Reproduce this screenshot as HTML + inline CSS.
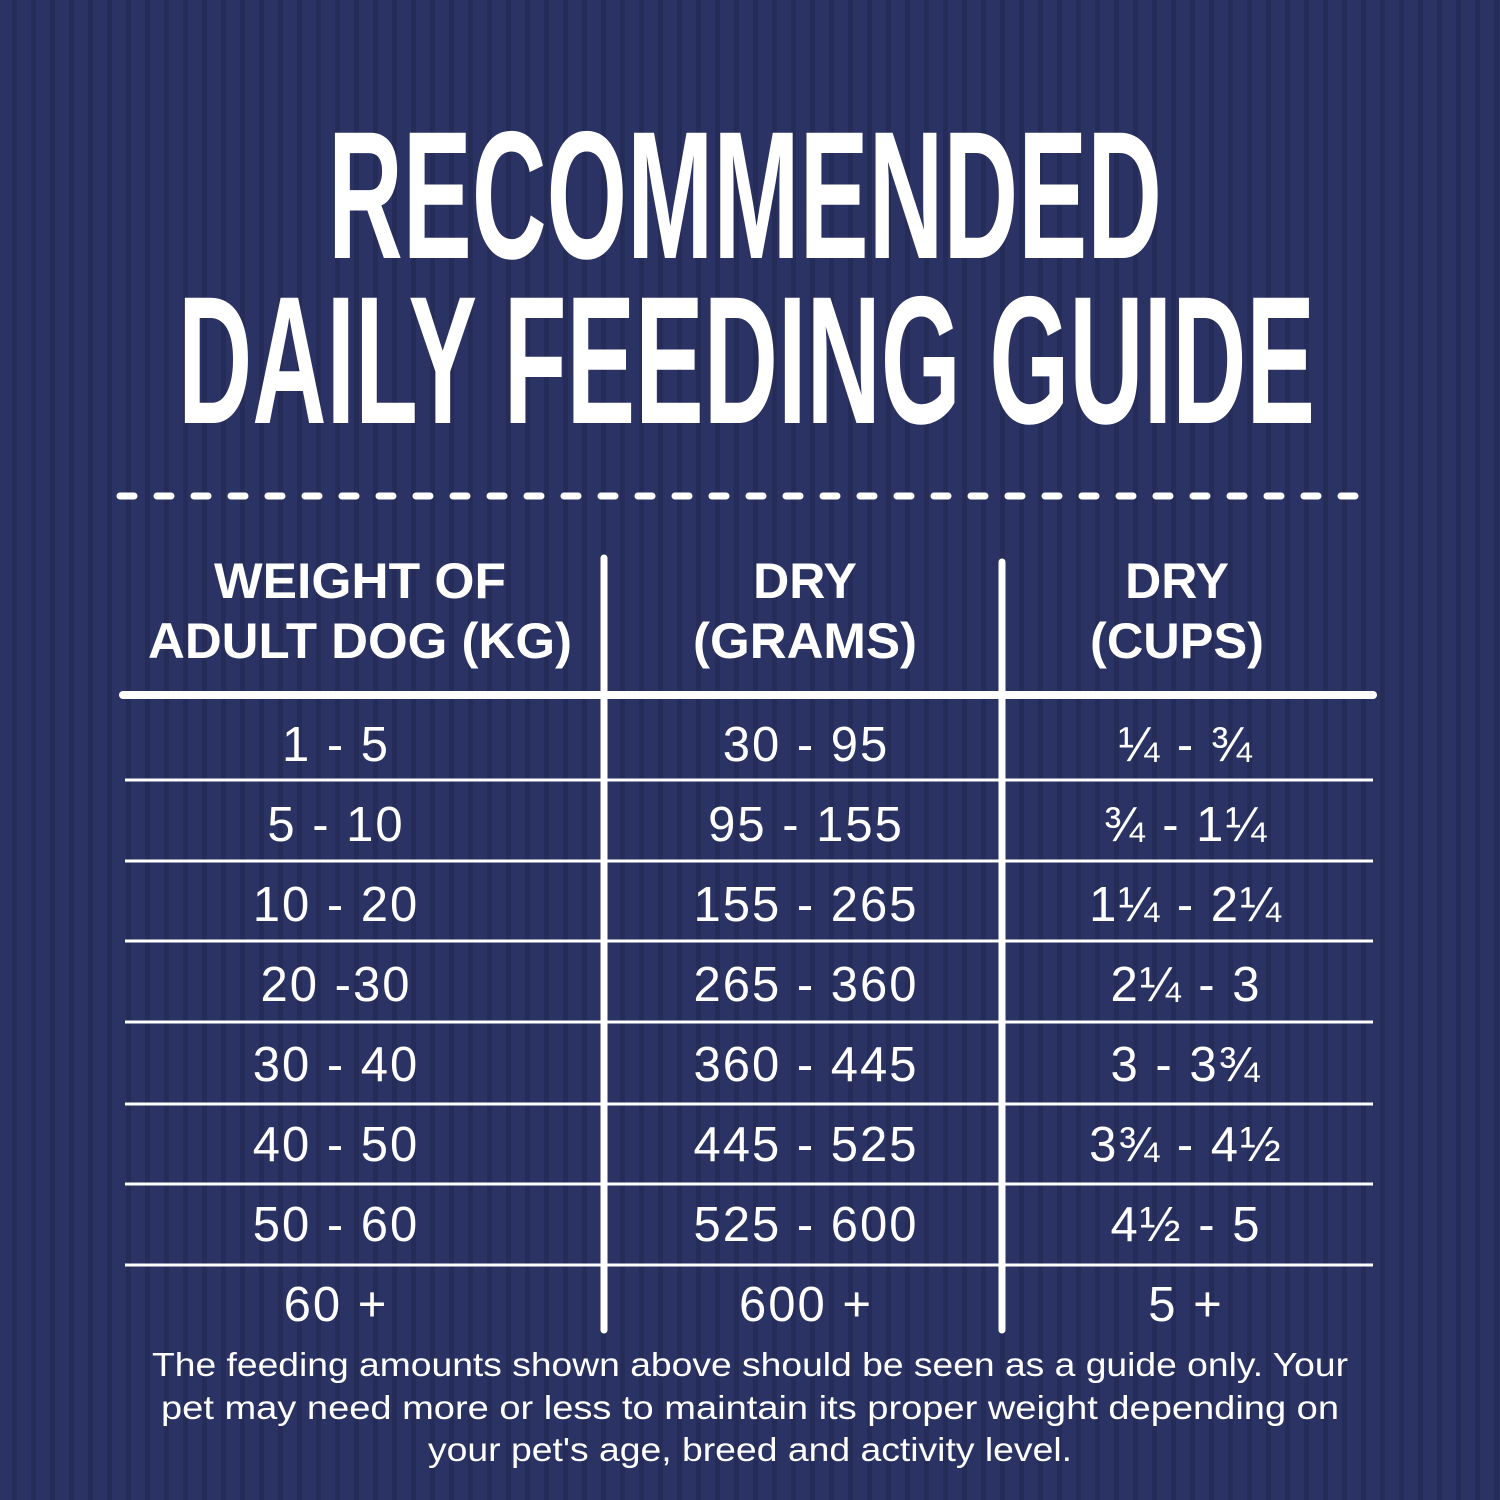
<!DOCTYPE html>
<html><head><meta charset="utf-8"><style>
html,body{margin:0;padding:0;width:1500px;height:1500px;overflow:hidden;background:#2a3262}
svg{display:block}
</style></head><body>
<svg width="1500" height="1500" viewBox="0 0 1500 1500" xmlns="http://www.w3.org/2000/svg">
<defs>
<pattern id="st" width="19" height="1500" patternUnits="userSpaceOnUse">
<rect width="19" height="1500" fill="#2b3364"/>
<rect x="12" width="5" height="1500" fill="#252c58"/>
</pattern>
</defs>
<rect width="1500" height="1500" fill="url(#st)"/>
<g fill="#fff" font-family="'Liberation Sans Narrow','Liberation Sans',sans-serif" font-weight="bold">
<text x="328" y="258" font-size="182" textLength="834" lengthAdjust="spacingAndGlyphs">RECOMMENDED</text>
<text x="178" y="423" font-size="182" textLength="1137" lengthAdjust="spacingAndGlyphs">DAILY FEEDING GUIDE</text>
</g>
<line x1="120" y1="496" x2="1375" y2="496" stroke="#fff" stroke-width="7" stroke-linecap="round" stroke-dasharray="14 23"/>
<g stroke="#fff" stroke-linecap="round">
<line x1="123" y1="695" x2="1373" y2="695" stroke-width="8"/>
<line x1="604" y1="558" x2="604" y2="1330" stroke-width="7"/>
<line x1="1002" y1="562" x2="1002" y2="1330" stroke-width="7"/>
</g>
<g stroke="#fff" stroke-width="3">
<line x1="125" y1="780" x2="1373" y2="780"/>
<line x1="125" y1="861" x2="1373" y2="861"/>
<line x1="125" y1="941" x2="1373" y2="941"/>
<line x1="125" y1="1022" x2="1373" y2="1022"/>
<line x1="125" y1="1104" x2="1373" y2="1104"/>
<line x1="125" y1="1184" x2="1373" y2="1184"/>
<line x1="125" y1="1265" x2="1373" y2="1265"/>
</g>
<g fill="#fff" font-family="'Liberation Sans','DejaVu Sans',sans-serif" text-anchor="middle">
<g font-weight="bold" font-size="50">
<text x="360" y="598" textLength="292" lengthAdjust="spacingAndGlyphs">WEIGHT OF</text>
<text x="360" y="658" textLength="424" lengthAdjust="spacingAndGlyphs">ADULT DOG (KG)</text>
<text x="805" y="598">DRY</text>
<text x="805" y="658" textLength="224" lengthAdjust="spacingAndGlyphs">(GRAMS)</text>
<text x="1177" y="598">DRY</text>
<text x="1177" y="658" textLength="174" lengthAdjust="spacingAndGlyphs">(CUPS)</text>
</g>
<g font-size="49" letter-spacing="2">
<text x="336" y="761">1 - 5</text><text x="806" y="761">30 - 95</text><text x="1186" y="761">¼ - ¾</text>
<text x="336" y="841">5 - 10</text><text x="806" y="841">95 - 155</text><text x="1186" y="841">¾ - 1¼</text>
<text x="336" y="921">10 - 20</text><text x="806" y="921">155 - 265</text><text x="1186" y="921">1¼ - 2¼</text>
<text x="336" y="1001">20 -30</text><text x="806" y="1001">265 - 360</text><text x="1186" y="1001">2¼ - 3</text>
<text x="336" y="1081">30 - 40</text><text x="806" y="1081">360 - 445</text><text x="1186" y="1081">3 - 3¾</text>
<text x="336" y="1161">40 - 50</text><text x="806" y="1161">445 - 525</text><text x="1186" y="1161">3¾ - 4½</text>
<text x="336" y="1241">50 - 60</text><text x="806" y="1241">525 - 600</text><text x="1186" y="1241">4½ - 5</text>
<text x="336" y="1321">60 +</text><text x="806" y="1321">600 +</text><text x="1186" y="1321">5 +</text>
</g>
<g font-size="33">
<text x="750" y="1376" textLength="1196" lengthAdjust="spacingAndGlyphs">The feeding amounts shown above should be seen as a guide only. Your</text>
<text x="750" y="1419" textLength="1178" lengthAdjust="spacingAndGlyphs">pet may need more or less to maintain its proper weight depending on</text>
<text x="750" y="1461" textLength="644" lengthAdjust="spacingAndGlyphs">your pet's age, breed and activity level.</text>
</g>
</g>
</svg>
</body></html>
